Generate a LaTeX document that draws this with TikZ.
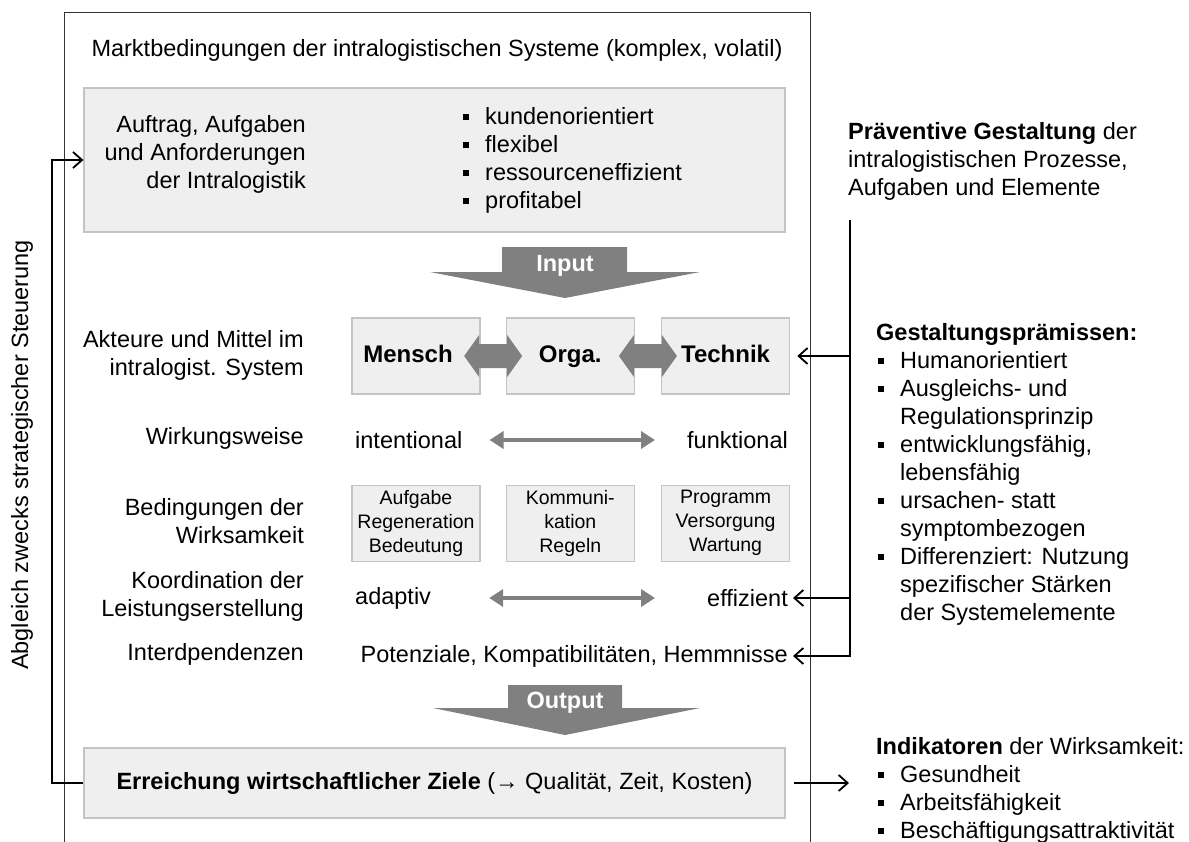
\documentclass[tikz,border=0pt]{standalone}
\usepackage{fontspec}
\setmainfont{Liberation Sans}
\usetikzlibrary{arrows.meta, positioning, calc}
\definecolor{boxgray}{RGB}{239,239,239}
\definecolor{edgegray}{RGB}{196,196,196}
\definecolor{arrowgray}{RGB}{128,128,128}
\newcommand{\sqb}{\makebox[24pt][l]{\hspace{2pt}\rule[4pt]{6pt}{6pt}}}
\newcommand{\sqi}{\hspace*{24pt}}

\begin{document}
\begin{tikzpicture}[
    x=1pt, y=-1pt,
    font=\fontsize{23.5}{28}\selectfont,
    greybox/.style={rectangle, draw=edgegray, fill=boxgray, line width=1.3pt, inner sep=0pt},
    actor/.style={greybox, minimum width=128pt, minimum height=76pt, text height=17pt, text depth=5pt, font=\fontsize{24}{28}\selectfont\bfseries},
    smallbox/.style={greybox, minimum width=128pt, minimum height=76pt, align=center, font=\fontsize{19.5}{24}\selectfont},
    rowlabel/.style={anchor=east, align=right, inner sep=0pt},
    listtext/.style={anchor=west, align=left, inner sep=0pt},
    fatarrow/.style={fill=arrowgray},
    thinarrow/.style={{Triangle[length=14pt,width=17pt]}-{Triangle[length=14pt,width=17pt]}, draw=arrowgray, line width=4pt},
    feed/.style={line width=1.8pt, -{Straight Barb[length=9pt,width=16pt]}},
]
    \useasboundingbox (0,0) rectangle (1189,841);

    % Frame
    \draw[black!80, line width=1pt] (64,850) -- (64,12) -- (810,12) -- (810,850);
    \node (markt) at (437,50) {Marktbedingungen der intralogistischen Systeme (komplex, volatil)};

    % Auftrag
    \node[greybox, minimum width=701pt, minimum height=144pt] (auftrag) at (434.5,160) {};
    \node[rowlabel] (auftragtxt) at (306,154) {Auftrag, Aufgaben\\und Anforderungen\\der Intralogistik};
    \node[listtext] (anford) at (461,160) {\sqb kundenorientiert\\\sqb flexibel\\\sqb ressourceneffizient\\\sqb profitabel};

    % Input
    \fill[fatarrow] (502,247) -- (627,247) -- (627,272) -- (700,272) -- (565,298) -- (430,272) -- (502,272) -- cycle;
    \node[text=white, font=\fontsize{23.5}{28}\selectfont\bfseries] (input) at (565,266) {Input};

    % Akteure
    \node[rowlabel] (akteure) at (304,355) {Akteure und Mittel im\\intralogist. System};
    \node[actor] (mensch) at (416,356) {Mensch\hspace*{16pt}};
    \node[actor, right=25pt of mensch] (orga) {Orga.};
    \node[actor, right=26pt of orga] (technik) {Technik};
    \fill[fatarrow, shift={($(mensch.east)!.5!(orga.west)$)}] (-29,0) -- (-14,-21) -- (-14,-12) -- (14,-12) -- (14,-21) -- (29,0) -- (14,21) -- (14,12) -- (-14,12) -- (-14,21) -- cycle;
    \fill[fatarrow, shift={($(orga.east)!.5!(technik.west)$)}] (-29,0) -- (-14,-21) -- (-14,-12) -- (14,-12) -- (14,-21) -- (29,0) -- (14,21) -- (14,12) -- (-14,12) -- (-14,21) -- cycle;

    % Wirkungsweise
    \node[rowlabel] (wirk) at (304,438) {Wirkungsweise};
    \node[listtext] (intent) at (355,440) {intentional};
    \node[rowlabel] (funkt) at (788,440) {funktional};
    \draw[thinarrow] ([xshift=27pt]intent.east) -- ([xshift=-32pt]funkt.west);

    % Bedingungen
    \node[rowlabel] (beding) at (304,521) {Bedingungen der\\Wirksamkeit};
    \node[smallbox, below=90pt of mensch] (aufgabe) {Aufgabe\\Regeneration\\Bedeutung};
    \node[smallbox, right=25pt of aufgabe] (kommu) {Kommuni-\\kation\\Regeln};
    \node[smallbox, right=26pt of kommu] (programm) {Programm\\Versorgung\\Wartung};

    % Koordination
    \node[rowlabel] (koord) at (304,596) {Koordination der\\Leistungserstellung};
    \node[listtext] (adaptiv) at (355,598) {adaptiv};
    \node[rowlabel] (effiz) at (788,598) {effizient};
    \draw[thinarrow] ([xshift=58pt]adaptiv.east) -- ([xshift=-52pt]effiz.west);

    % Interdependenzen
    \node[rowlabel] (interd) at (304,654) {Interdpendenzen};
    \node[rowlabel] (potenz) at (788,656) {Potenziale, Kompatibilitäten, Hemmnisse};

    % Output
    \fill[fatarrow] (508,685) -- (622,685) -- (622,708) -- (700,708) -- (565,735) -- (433,708) -- (508,708) -- cycle;
    \node[text=white, font=\fontsize{23.5}{28}\selectfont\bfseries] (output) at (565,703) {Output};

    % Ziele
    \node[greybox, minimum width=701pt, minimum height=70pt] (erreichung) at (434.5,783) {\textbf{Erreichung wirtschaftlicher Ziele} (→ Qualität, Zeit, Kosten)};

    % Right side
    \node[listtext] (praevent) at (848,161) {\textbf{Präventive Gestaltung} der\\intralogistischen Prozesse,\\Aufgaben und Elemente};
    \node[listtext] (praemissen) at (876,474) {\textbf{Gestaltungsprämissen:}\\\sqb Humanorientiert\\\sqb Ausgleichs- und\\\sqi Regulationsprinzip\\\sqb entwicklungsfähig,\\\sqi lebensfähig\\\sqb ursachen- statt\\\sqi symptombezogen\\\sqb Differenziert: Nutzung\\\sqi spezifischer Stärken\\\sqi der Systemelemente};
    \node[listtext] (indik) at (876,790) {\textbf{Indikatoren} der Wirksamkeit:\\\sqb Gesundheit\\\sqb Arbeitsfähigkeit\\\sqb Beschäftigungsattraktivität};
    \node[rotate=90] (abgleich) at (22,455) {Abgleich zwecks strategischer Steuerung};

    % Connections
    \coordinate (spine) at (850,220);
    \draw[feed] (spine) |- ([xshift=5pt]potenz.east);
    \draw[feed] (spine |- technik.east) -- ([xshift=7pt]technik.east);
    \draw[feed] (spine |- effiz.east) -- ([xshift=5pt]effiz.east);
    \draw[feed] ([xshift=8pt]erreichung.east) -- ([xshift=-27pt]indik.west |- erreichung.east);
    \draw[feed] (erreichung.west) -- ++(-31,0) |- (auftrag.west);

\end{tikzpicture}
\end{document}
